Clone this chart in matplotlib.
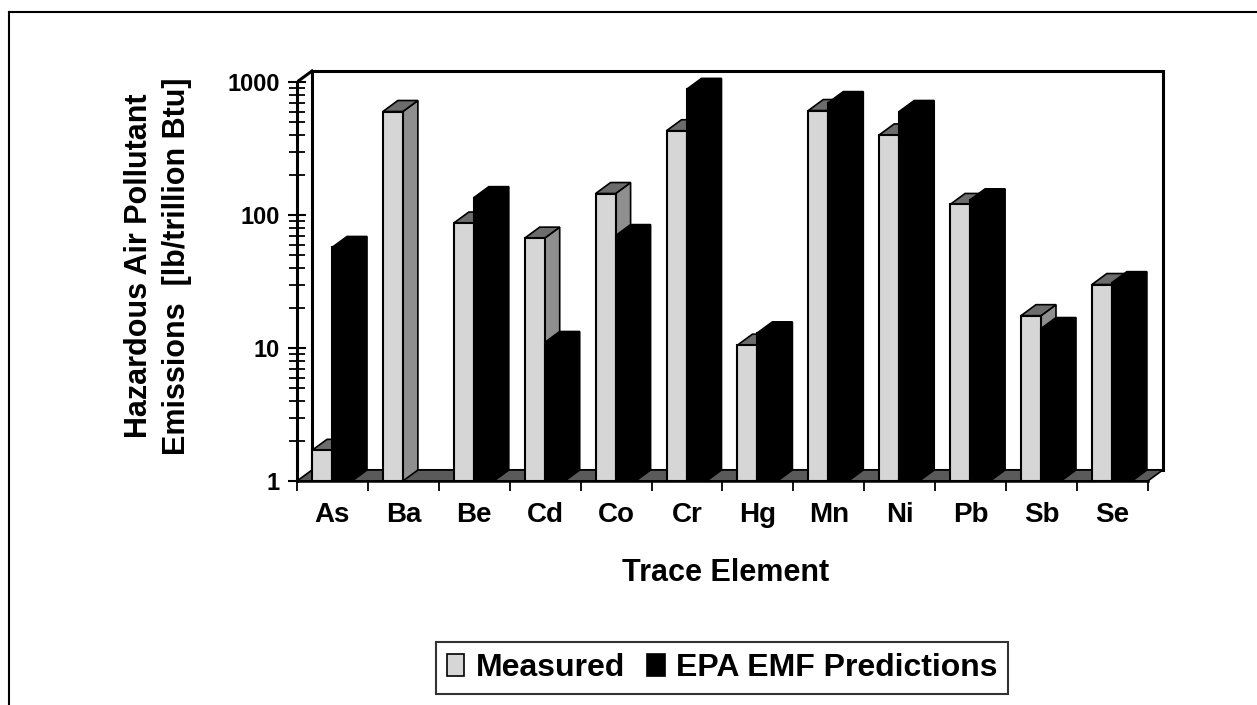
import numpy as np
import matplotlib
matplotlib.use('Agg')
import matplotlib.pyplot as plt
from matplotlib.patches import Polygon, Patch
from matplotlib.lines import Line2D
from matplotlib.ticker import FixedLocator, NullFormatter, FixedFormatter

# ---------------- data ----------------
elements = ['As', 'Ba', 'Be', 'Cd', 'Co', 'Cr', 'Hg', 'Mn', 'Ni', 'Pb', 'Sb', 'Se']
measured = [1.7, 600, 87, 67, 145, 430, 10.5, 610, 400, 120, 17.5, 30]
epa_emf = [57, np.nan, 135, 11, 70, 880, 13, 700, 600, 130, 14, 31]
series_names = ['Measured', 'EPA EMF Predictions']
y_ticks = [1, 10, 100, 1000]
y_tick_labels = ['1', '10', '100', '1000']
x_label = 'Trace Element'
y_label_lines = ['Hazardous Air Pollutant', 'Emissions  [lb/trillion Btu]']

# ---------------- style ----------------
plt.rcParams['font.family'] = ['Liberation Sans', 'DejaVu Sans']
FS_YTICK = 17
FS_XTICK = 20
FS_XLAB = 22
FS_YLAB = 22
FS_LEG = 23
W, H = 1257, 705
PX_CAT = 70.9       # pixels per category
PX_DEC = 133.0      # pixels per decade
DEPTH_X = 15 / PX_CAT
DEPTH_K = 10 ** (11 / PX_DEC)
BAR_W = 20 / PX_CAT
BAR_OFF = 15 / PX_CAT

meas_front = '#d6d6d6'
meas_side = '#8f8f8f'
meas_top = '#6c6c6c'
epa_col = '#000000'

fig = plt.figure(figsize=(W / 100, H / 100), dpi=100)
left_px, right_px, top_px, floor_px = 297, 1166, 66, 481
ax = fig.add_axes([left_px / W, (H - floor_px) / H,
                   (right_px - left_px) / W, (floor_px - top_px) / H])
ax.set_facecolor('none')
ax.set_yscale('log')
n = len(elements)
ax.set_xlim(-0.5, -0.5 + (right_px - left_px) / PX_CAT)
ax.set_ylim(1, 10 ** ((floor_px - top_px) / PX_DEC))

x0 = -0.5
x1 = n - 0.5
ymin, ymax = y_ticks[0], y_ticks[-1]

# back wall
wall = Polygon([(x0 + DEPTH_X, ymin * DEPTH_K), (x0 + DEPTH_X, ymax * DEPTH_K),
                (x1 + DEPTH_X, ymax * DEPTH_K), (x1 + DEPTH_X, ymin * DEPTH_K)],
               closed=True, facecolor='white', edgecolor='black', lw=2.2, zorder=1)
ax.add_patch(wall)
# floor
floor = Polygon([(x0, ymin), (x1, ymin), (x1 + DEPTH_X, ymin * DEPTH_K),
                 (x0 + DEPTH_X, ymin * DEPTH_K)],
                closed=True, facecolor='#5a5a5a', edgecolor='black', lw=1.2, zorder=2)
ax.add_patch(floor)
# top-left diagonal of the box
ax.add_line(Line2D([x0, x0 + DEPTH_X], [ymax, ymax * DEPTH_K], color='black', lw=2.2, zorder=2))

# bars
z = 5
xs = np.arange(n)
meas_left = xs - 0.5 + BAR_OFF
epa_left = meas_left + BAR_W


def draw_bar(l, v, front, side, top, z):
    if not np.isfinite(v):
        return z
    sidep = Polygon([(l + BAR_W, ymin), (l + BAR_W, v), (l + BAR_W + DEPTH_X, v * DEPTH_K),
                     (l + BAR_W + DEPTH_X, ymin * DEPTH_K)], closed=True,
                    facecolor=side, edgecolor='black', lw=1.2, zorder=z)
    topp = Polygon([(l, v), (l + BAR_W, v), (l + BAR_W + DEPTH_X, v * DEPTH_K),
                    (l + DEPTH_X, v * DEPTH_K)], closed=True,
                   facecolor=top, edgecolor='black', lw=1.2, zorder=z + 1)
    ax.add_patch(sidep)
    ax.add_patch(topp)
    ax.bar([l], [v - ymin], bottom=ymin, width=BAR_W, align='edge',
           facecolor=front, edgecolor='black', lw=1.5, zorder=z + 2)
    return z + 3


for i in range(n):
    z = draw_bar(meas_left[i], measured[i], meas_front, meas_side, meas_top, z)
    z = draw_bar(epa_left[i], epa_emf[i], epa_col, epa_col, epa_col, z)

# spines / axes
for s in ['top', 'right']:
    ax.spines[s].set_visible(False)
ax.spines['left'].set_bounds(ymin, ymax)
ax.spines['left'].set_linewidth(2.2)
ax.spines['left'].set_zorder(200)
ax.spines['bottom'].set_bounds(x0, x1)
ax.spines['bottom'].set_linewidth(1.8)
ax.spines['bottom'].set_zorder(200)

ax.yaxis.set_major_locator(FixedLocator(y_ticks))
ax.yaxis.set_major_formatter(FixedFormatter(y_tick_labels))
minor = [m * 10 ** e for e in range(3) for m in range(2, 10)]
ax.yaxis.set_minor_locator(FixedLocator(minor))
ax.yaxis.set_minor_formatter(NullFormatter())
ax.tick_params(axis='y', which='major', direction='inout', length=13, width=1.5,
               labelsize=FS_YTICK, pad=6)
ax.tick_params(axis='y', which='minor', direction='inout', length=12, width=1.3)

ax.xaxis.set_major_locator(FixedLocator(xs))
ax.xaxis.set_major_formatter(FixedFormatter(elements))
ax.xaxis.set_minor_locator(FixedLocator(np.arange(n + 1) - 0.5))
ax.tick_params(axis='x', which='major', length=0, labelsize=FS_XTICK, pad=15)
ax.tick_params(axis='x', which='minor', direction='out', length=7, width=1.3)
for lab in ax.get_xticklabels() + ax.get_yticklabels():
    lab.set_fontweight('bold')

# axis titles
fig.text(726 / W, (H - 573) / H, x_label, ha='center', va='center',
         fontsize=FS_XLAB, fontweight='bold')
fig.text(139 / W, (H - 266) / H, y_label_lines[0], ha='center', va='center',
         rotation=90, fontsize=FS_YLAB, fontweight='bold')
fig.text(177 / W, (H - 266) / H, y_label_lines[1], ha='center', va='center',
         rotation=90, fontsize=FS_YLAB, fontweight='bold')

# legend
handles = [Patch(facecolor=meas_front, edgecolor='black', lw=1.2, label=series_names[0]),
           Patch(facecolor=epa_col, edgecolor='black', lw=1.2, label=series_names[1])]
leg = fig.legend(handles=handles, loc='center', ncol=2,
                 bbox_to_anchor=(722 / W, (H - 668) / H),
                 frameon=True, fancybox=False, edgecolor='black',
                 prop={'size': FS_LEG, 'weight': 'bold'},
                 handlelength=0.55, handleheight=0.7, handletextpad=0.35,
                 columnspacing=0.7, borderpad=0.35, borderaxespad=0)
leg.get_frame().set_linewidth(1.5)

# outer frame
fig.add_artist(Line2D([9 / W, 1.0], [(H - 12) / H, (H - 12) / H],
                      transform=fig.transFigure, color='black', lw=1.5))
fig.add_artist(Line2D([9 / W, 9 / W], [0, (H - 12) / H],
                      transform=fig.transFigure, color='black', lw=1.5))

fig.savefig('out.png', dpi=100, facecolor='white')
